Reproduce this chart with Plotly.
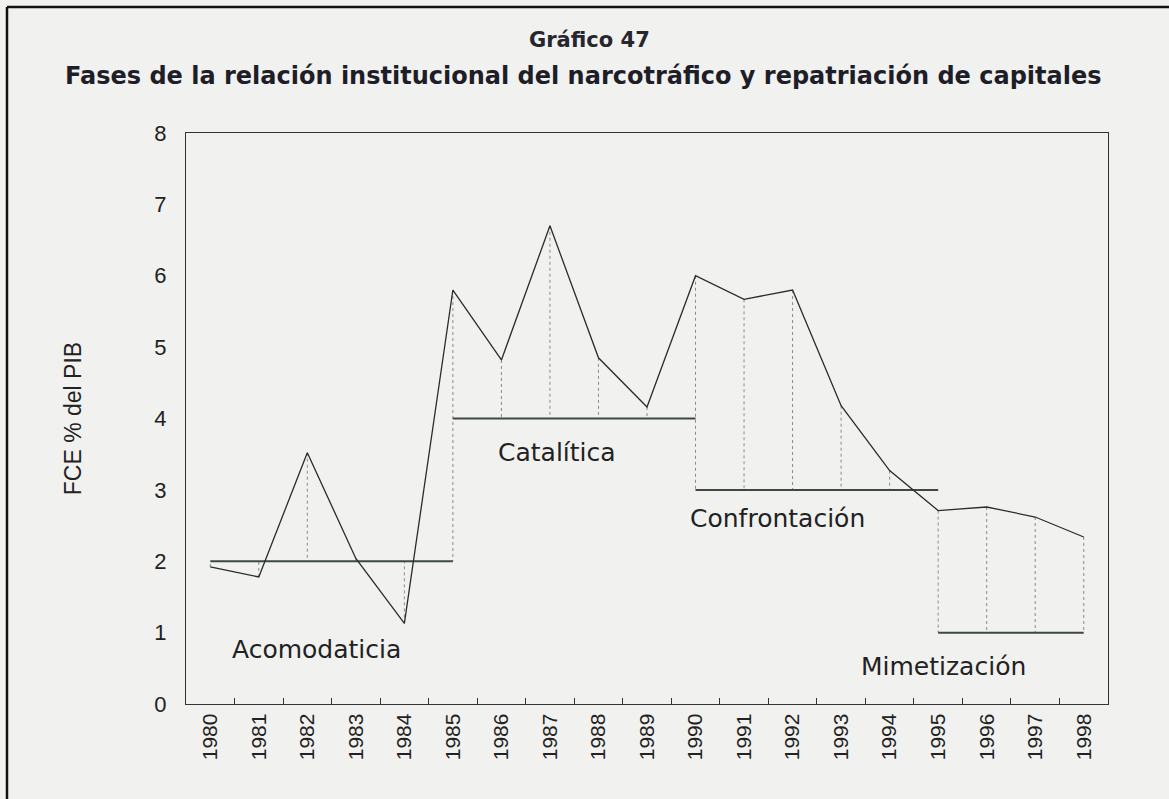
import plotly.graph_objects as go

years = [str(y) for y in range(1980, 1999)]
fce_pib = [1.92, 1.78, 3.52, 2.04, 1.13, 5.80, 4.82, 6.70, 4.85, 4.16,
           6.00, 5.67, 5.80, 4.18, 3.27, 2.71, 2.76, 2.62, 2.34]
# baseline of each year's dotted drop line (phase level)
drop_base = [2, 2, 2, 2, 2, 2, 4, 4, 4, 4, 3, 3, 3, 3, 3, 1, 1, 1, 1]

phase_names = ["Acomodaticia", "Catalítica", "Confrontación", "Mimetización"]
phase_start = ["1980", "1985", "1990", "1995"]
phase_end = ["1985", "1990", "1995", "1998"]
phase_level = [2, 4, 3, 1]
label_x = [2.18, 7.14, 11.68, 15.1]
label_y = [0.76, 3.52, 2.6, 0.52]

BG = "#f1f1ef"
INK = "#2b2b2b"
FONT = "Liberation Sans, Arial, sans-serif"

fig = go.Figure()

# dotted drop lines
dx, dy = [], []
for yr, v, b in zip(years, fce_pib, drop_base):
    dx += [yr, yr, None]
    dy += [v, b, None]
fig.add_trace(go.Scatter(x=dx, y=dy, mode="lines", connectgaps=False,
                         line=dict(color="#8a8a8a", width=1, dash="dot"),
                         hoverinfo="skip", showlegend=False))

# phase level lines
for s, e, lv in zip(phase_start, phase_end, phase_level):
    fig.add_trace(go.Scatter(x=[s, e], y=[lv, lv], mode="lines",
                             line=dict(color="#3e4848", width=2),
                             hoverinfo="skip", showlegend=False))

# main series
fig.add_trace(go.Scatter(x=years, y=fce_pib, mode="lines",
                         line=dict(color=INK, width=1.3),
                         showlegend=False, name="FCE % del PIB"))

for name, lx, ly in zip(phase_names, label_x, label_y):
    fig.add_annotation(x=lx, y=ly, xref="x", yref="y", text=name,
                       showarrow=False, xanchor="center", yanchor="middle",
                       font=dict(family="DejaVu Sans, sans-serif", size=25, color="#222"))

L, R, T, B = 186, 61, 133, 95
W, H = 1169, 799
pw, ph = W - L - R, H - T - B

# page frame (top and left edges of the scanned page)
fx = (7 - L) / pw
fy = 1 + (T - 7) / ph
fig.add_shape(type="line", xref="paper", yref="paper", x0=fx, x1=(W - L) / pw + 0.01,
              y0=fy, y1=fy, line=dict(color="#111", width=2.5))
fig.add_shape(type="line", xref="paper", yref="paper", x0=fx, x1=fx,
              y0=fy, y1=-(B + 5) / ph, line=dict(color="#111", width=2.5))

TFONT = "DejaVu Sans, sans-serif"
fig.add_annotation(xref="paper", yref="paper", x=(589 - L) / pw, y=1 + (T - 40) / ph,
                   text="<b>Gráfico 47</b>", showarrow=False, xanchor="center", yanchor="middle",
                   font=dict(family=TFONT, size=21, color="#26262e"))
fig.add_annotation(xref="paper", yref="paper", x=(583 - L) / pw, y=1 + (T - 76) / ph,
                   text="<b>Fases de la relación institucional del narcotráfico y repatriación de capitales</b>",
                   showarrow=False, xanchor="center", yanchor="middle",
                   font=dict(family=TFONT, size=24, color="#1e1e28"))

fig.update_layout(
    width=W, height=H,
    margin=dict(l=L, r=R, t=T, b=B, pad=0),
    paper_bgcolor=BG, plot_bgcolor=BG,
    font=dict(family=FONT, color="#222"),
    xaxis=dict(type="category", categoryorder="array", categoryarray=years,
               range=[-0.5, 18.5], tickson="boundaries", ticks="inside", ticklen=6,
               tickcolor="#333", tickangle=-90, showgrid=False, zeroline=False,
               showline=True, linecolor="#333", linewidth=1.3, mirror=True,
               tickfont=dict(family=FONT, size=21, color="#222")),
    yaxis=dict(range=[0, 8], dtick=1, tick0=0, showgrid=False, zeroline=False,
               showline=True, linecolor="#333", linewidth=1.3, mirror=True,
               ticks="", ticklabelstandoff=14,
               tickfont=dict(family=FONT, size=22, color="#222"),
               title=dict(text="FCE % del PIB", standoff=66,
                          font=dict(family=FONT, size=23, color="#222"))),
)

fig.write_html("out.html", config={"displayModeBar": False},
               post_script="document.body.style.margin='0px';document.body.style.overflow='hidden';")
